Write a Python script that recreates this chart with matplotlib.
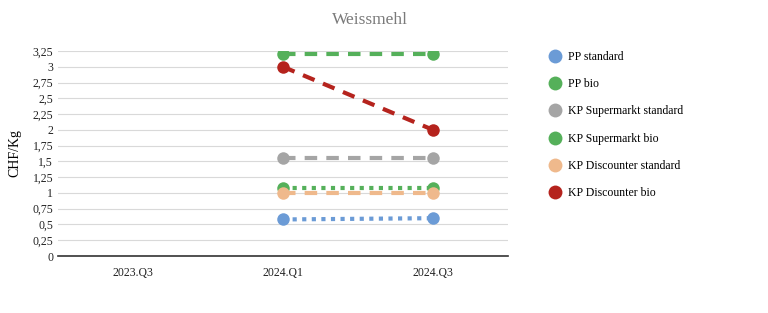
import numpy as np
import matplotlib.pyplot as plt
from matplotlib.lines import Line2D

plt.rcParams['font.family'] = ['Liberation Serif', 'DejaVu Serif']

# Data (NaN = no value for that quarter)
quarters = ['2023.Q3', '2024.Q1', '2024.Q3']
series_names = ['PP standard', 'PP bio', 'KP Supermarkt standard',
                'KP Supermarkt bio', 'KP Discounter standard', 'KP Discounter bio']
pp_standard = [np.nan, 0.58, 0.60]
pp_bio = [np.nan, 1.08, 1.08]
kp_super_standard = [np.nan, 1.55, 1.55]
kp_super_bio = [np.nan, 3.20, 3.20]
kp_disc_standard = [np.nan, 1.00, 1.00]
kp_disc_bio = [np.nan, 3.00, 2.00]

values = [pp_standard, pp_bio, kp_super_standard, kp_super_bio,
          kp_disc_standard, kp_disc_bio]
colors = ['#6b9bd6', '#55b05a', '#a5a5a5', '#55b05a', '#efb98c', '#b5231d']
styles = [(0, (1, 1.3)), (0, (1, 1.3)), (0, (3, 2.2)), (0, (3, 2.2)),
          (0, (3, 2.2)), (0, (3, 2.2))]

fig = plt.figure(figsize=(7.68, 3.13), dpi=100)
ax = fig.add_axes([0.0755, 0.182, 0.586, 0.655])

x = np.arange(len(quarters))
for vals, c, ls in zip(values, colors, styles):
    ax.plot(x, vals, color=c, linestyle=ls, linewidth=3,
            marker='o', markersize=9, markeredgewidth=0, zorder=3)

ax.set_xlim(-0.5, 2.5)
ax.set_ylim(0, 3.25)
yt = np.arange(0, 3.26, 0.25)
ax.set_yticks(yt)
ax.set_yticklabels([('%g' % v).replace('.', ',') for v in yt], fontsize=8.5)
ax.set_xticks(x)
ax.set_xticklabels(quarters, fontsize=8.5)
ax.tick_params(length=0, colors='#222222')
ax.tick_params(axis='x', pad=8)
ax.grid(axis='y', color='#d9d9d9', linewidth=0.8)
ax.set_axisbelow(True)
for s in ['top', 'right', 'left']:
    ax.spines[s].set_visible(False)
ax.spines['bottom'].set_color('#333333')
ax.spines['bottom'].set_linewidth(1.2)
ax.set_ylabel('CHF/Kg', fontsize=10, labelpad=8)

fig.text(0.482, 0.935, 'Weissmehl', ha='center', va='center',
         fontsize=12.5, color='#7a7a7a')

handles = [Line2D([], [], linestyle='none', marker='o', markersize=10,
                  markeredgewidth=0, color=c) for c in colors]
fig.legend(handles, series_names, loc='upper left',
           bbox_to_anchor=(0.7, 0.872), frameon=False, fontsize=8.5,
           handletextpad=0.5, labelspacing=1.3, handlelength=1.2)

fig.savefig('out.png', dpi=100)
